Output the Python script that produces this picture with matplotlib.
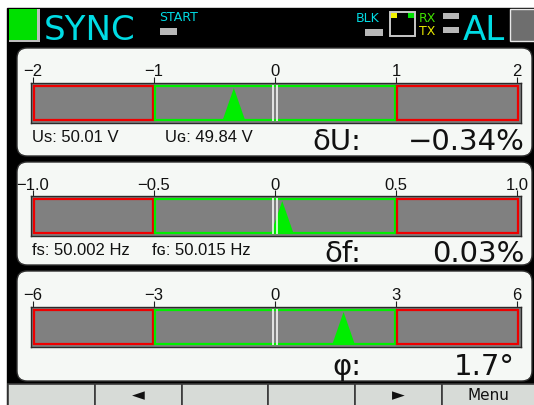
import matplotlib
matplotlib.use("Agg")
import matplotlib.pyplot as plt
from matplotlib.patches import Rectangle, FancyBboxPatch

# ---------------- data ----------------
quantity_labels = ["δU:", "δf:", "φ:"]
readouts = ["−0.34%", "0.03%", "1.7°"]
deviations = [-0.34, 0.03, 1.7]
scale_limits = [2.0, 1.0, 6.0]
tick_values = [[-2, -1, 0, 1, 2], [-1.0, -0.5, 0, 0.5, 1.0], [-6, -3, 0, 3, 6]]
tick_labels = [["−2", "−1", "0", "1", "2"],
               ["−1.0", "−0.5", "0", "0.5", "1.0"],
               ["−6", "−3", "0", "3", "6"]]
info_left = ["Us: 50.01 V", "fs: 50.002 Hz", ""]
info_right = ["Uɢ: 49.84 V", "fɢ: 50.015 Hz", ""]
button_labels = ["", "◄", "", "", "►", "Menu"]

# ---------------- style ----------------
W, H = 534, 405
CYAN = "#00DCE4"
GREEN = "#00EE00"
RED = "#EE0000"
BAR_GRAY = "#808080"
PANEL_BG = "#F5F8F5"
SMALL_FONT = ["Liberation Sans", "DejaVu Sans"]
BIG_FONT = ["DejaVu Sans"]

fig = plt.figure(figsize=(W / 100, H / 100), dpi=100)
bg = fig.add_axes([0, 0, 1, 1])
bg.set_xlim(0, W)
bg.set_ylim(H, 0)
bg.axis("off")


def fig_rect(x0, y0, x1, y1):
    return [x0 / W, 1 - y1 / H, (x1 - x0) / W, (y1 - y0) / H]


# screen background
bg.add_patch(Rectangle((0, 0), W, H, color="white", zorder=0))
bg.add_patch(Rectangle((7, 8), W - 7, H - 8, color="black", zorder=0.5))

# ---------------- status bar ----------------
bg.add_patch(Rectangle((9, 9), 31, 33, fc="#BEBEBE", ec="none", zorder=1))
bg.add_patch(Rectangle((9, 9), 28, 31, fc="#00E000", ec="none", zorder=2))
bg.text(44, 40.5, "SYNC", color=CYAN, fontsize=24.5, family=BIG_FONT,
        ha="left", va="baseline", zorder=3)
bg.text(159, 21, "START", color=CYAN, fontsize=9, family=BIG_FONT,
        ha="left", va="baseline", zorder=3)
bg.add_patch(Rectangle((160, 28), 17, 7, fc="#B8B8B8", zorder=2))
bg.text(356, 22, "BLK", color=CYAN, fontsize=9, family=BIG_FONT,
        ha="left", va="baseline", zorder=3)
bg.add_patch(Rectangle((365, 29), 18, 7, fc="#B8B8B8", zorder=2))
bg.add_patch(Rectangle((389.5, 11.5), 25, 24, fc="black", ec="#C8C8C8", lw=1.4, zorder=2))
bg.add_patch(Rectangle((391, 13), 6, 5, fc="#F0F000", zorder=3))
bg.add_patch(Rectangle((408, 13), 6, 5, fc="#00E000", zorder=3))
bg.text(419, 22, "RX", color="#40E000", fontsize=9, family=BIG_FONT,
        ha="left", va="baseline", zorder=3)
bg.text(419, 35, "TX", color="#E8E800", fontsize=9, family=BIG_FONT,
        ha="left", va="baseline", zorder=3)
bg.add_patch(Rectangle((443, 13), 16, 6, fc="#B8B8B8", zorder=2))
bg.add_patch(Rectangle((443, 27), 16, 6, fc="#B8B8B8", zorder=2))
bg.text(463, 40, "AL", color=CYAN, fontsize=24.5, family=BIG_FONT,
        ha="left", va="baseline", zorder=3)
bg.add_patch(Rectangle((510, 9), 26, 32, fc="#6E6E6E", ec="#E8E8E8", lw=1, zorder=2))

# ---------------- panels ----------------
panel_boxes = [(17, 48, 532, 156), (17, 162, 532, 265), (17, 271, 532, 381)]
bar_rows = [(83, 123), (196, 236), (307, 347)]
info_baselines = [142, 255, None]
info_right_x = [165, 152, None]
big_baselines = [150, 262, 375]
readout_right_x = [525, 525, 515]
BAR_X0, BAR_X1 = 31, 521          # pixel extent of the bar frame
TICK_X0, TICK_X1 = 33, 517        # pixels of -limit and +limit

for i in range(3):
    x0, y0, x1, y1 = panel_boxes[i]
    bg.add_patch(FancyBboxPatch((x0, y0), x1 - x0, y1 - y0,
                                boxstyle="round,pad=0,rounding_size=10",
                                fc=PANEL_BG, ec="#303030", lw=1, zorder=1))

    L = scale_limits[i]
    ppu = (TICK_X1 - TICK_X0) / (2 * L)      # pixels per unit
    px = 1.0 / ppu                           # one pixel in data units
    by0, by1 = bar_rows[i]
    ax = fig.add_axes(fig_rect(BAR_X0, by0, BAR_X1, by1))
    ax.set_xlim(-L - (TICK_X0 - BAR_X0) * px, L + (BAR_X1 - TICK_X1) * px)
    ax.set_ylim(0, 1)
    ax.set_facecolor(BAR_GRAY)
    for s in ax.spines.values():
        s.set_color("#2A2A2A")
        s.set_linewidth(1.0)
    ax.set_yticks([])
    ax.set_xticks(tick_values[i])
    ax.tick_params(axis="x", top=True, bottom=False, labeltop=False,
                   labelbottom=False, length=4, width=0.8, color="#202020",
                   direction="out")

    yb, yt = 3 / 40, 37 / 40
    zones = [(-L, -L / 2, RED), (-L / 2, L / 2, GREEN), (L / 2, L, RED)]
    for (za, zb, col) in zones:
        a = za + (1.3 * px if za > -L else 0.8 * px)
        b = zb - (1.3 * px if zb < L else -0.5 * px)
        ax.add_patch(Rectangle((a, yb), b - a, yt - yb, fc="none", ec=col,
                               lw=1.6, zorder=2))

    v = deviations[i]
    hw = 11 * px
    ax.fill([v - hw, v, v + hw], [yb + 0.01, 0.875, yb + 0.01],
            color=GREEN, lw=0, zorder=3)
    for dx in (-2 * px, 2 * px):
        ax.plot([dx, dx], [0.05, 0.95], color="white", lw=1.1, zorder=4,
                solid_capstyle="butt")

    for tv, tl in zip(tick_values[i], tick_labels[i]):
        ax.annotate(tl, xy=(tv, 1), xycoords=("data", "axes fraction"),
                    xytext=(0, 6.5 * 0.72), textcoords="offset points",
                    ha="center", va="baseline", fontsize=12,
                    family=SMALL_FONT, color="#111111", annotation_clip=False)

    if info_left[i]:
        bg.text(32, info_baselines[i], info_left[i], fontsize=12,
                family=SMALL_FONT, color="#111111", ha="left", va="baseline",
                zorder=3)
        bg.text(info_right_x[i], info_baselines[i], info_right[i], fontsize=12,
                family=SMALL_FONT, color="#111111", ha="left", va="baseline",
                zorder=3)
    bg.text(361, big_baselines[i], quantity_labels[i], fontsize=21,
            family=BIG_FONT, color="#111111", ha="right", va="baseline", zorder=3)
    bg.text(readout_right_x[i], big_baselines[i], readouts[i], fontsize=21,
            family=BIG_FONT, color="#111111", ha="right", va="baseline", zorder=3)

# ---------------- soft-key bar ----------------
button_edges = [8, 95, 182, 268, 355, 442, 540]
for k, lab in enumerate(button_labels):
    a, b = button_edges[k], button_edges[k + 1]
    bg.add_patch(Rectangle((a, 384), b - a, 25, fc="#D7DBD7", ec="#3A3A3A",
                           lw=1.2, zorder=2))
    if lab:
        is_menu = lab == "Menu"
        bg.text((a + b) / 2 - (3 if is_menu else 0), 400.5 if is_menu else 400.5,
                lab, fontsize=11 if is_menu else 12, family=BIG_FONT,
                color="#111111", ha="center", va="baseline", zorder=3)

fig.savefig("out.png", dpi=100)
